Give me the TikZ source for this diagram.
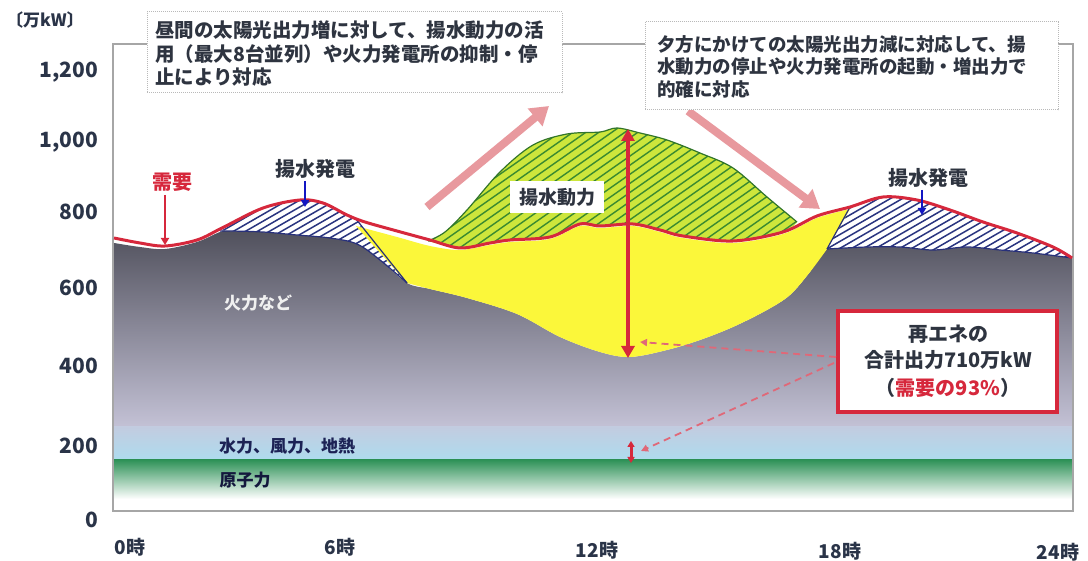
\documentclass[tikz,border=0pt]{standalone}
\usepackage{fontspec}
\usetikzlibrary{arrows.meta}
\newfontfamily\cjk{Noto Sans CJK JP}
\definecolor{demred}{HTML}{D6283C}
\definecolor{navy}{HTML}{28307A}
\definecolor{hatchblue}{HTML}{2A3580}
\definecolor{pumpgreen}{HTML}{CDE63C}
\definecolor{hatchgreen}{HTML}{3A8A30}
\definecolor{solar}{HTML}{FBF73A}
\definecolor{pinkarrow}{HTML}{E8999E}
\definecolor{txt}{HTML}{2E3440}
\definecolor{axtxt}{HTML}{2A3448}
\definecolor{thermtop}{HTML}{50505C}
\definecolor{thermbot}{HTML}{C4C2D6}
\definecolor{hydtop}{HTML}{C2CCE0}
\definecolor{hydbot}{HTML}{ADDCEF}
\definecolor{nuc}{HTML}{2F9258}
\definecolor{dashred}{HTML}{E06878}
\newcommand\fsz[2]{\fontsize{#1}{#2}\selectfont}
\begin{document}
\begin{tikzpicture}[x=1pt,y=-1pt,
  lbl/.style={inner sep=0pt, text=txt, font=\cjk\bfseries},
  boxline/.style={lbl, anchor=west},
  ylab/.style={inner sep=0pt, anchor=east, text=axtxt, font=\cjk\bfseries\fsz{21}{24}},
  xlab/.style={inner sep=0pt, text=axtxt, font=\cjk\bfseries\fsz{19}{22}},
  callout/.style={draw=gray!55, densely dotted, line width=1, fill=white},
  bluehatch/.style={hatchblue, line width=1.5},
  greenhatch/.style={hatchgreen, line width=1.4},
  pinkarr/.style={pinkarrow, line width=8, -{Triangle[length=18pt,width=22pt]}},
  bigarr/.style={demred, line width=4, {Triangle[length=12pt,width=13pt]}-{Triangle[length=12pt,width=13pt]}},
  dasharr/.style={dashred, line width=1.8, dash pattern=on 7pt off 5pt, -{Triangle[length=7pt,width=7pt]}},
  pointer/.style={line width=1.8, -{Triangle[length=7pt,width=8pt]}},
]
\useasboundingbox (0,0) rectangle (1088,561);
\fill[white] (0,0) rectangle (1088,561);

% thermal (gray) region
\shade[top color=thermtop, bottom color=thermbot]
  plot[smooth, tension=0.55] coordinates {(114,243) (140,247) (165,249) (197,242) (220,232) (230,231) (263,232) (297,235) (330,238) (357,244) (380,260) (407,283) (430,289) (467,298) (517,314) (560,337) (600,352) (630,357) (667,350) (700,340) (733,327) (767,310) (790,295) (810,272) (827,249) (867,247) (900,247) (933,250) (967,247) (1000,250) (1033,253) (1072,258)}
  -- (1072,428) -- (114,428) -- cycle;
% hydro / wind / geothermal band
\shade[top color=hydtop, bottom color=hydbot] (114,427) rectangle (1072,461);
% nuclear band
\shade[top color=nuc, middle color=nuc!72!white, bottom color=white] (114,460) rectangle (1072,499);

% left pumped-storage generation (blue hatch)
\begin{scope}
\clip plot[smooth, tension=0.55] coordinates {(220,230) (230,224) (263,208) (300,200) (323,203) (347,215) (356,219)} -- (407,283)
  -- plot[smooth, tension=0.55] coordinates {(407,283) (380,260) (357,244) (330,238) (297,235) (263,232) (230,231) (220,230)} -- cycle;
\fill[white] (200,180) rectangle (420,300);
\foreach \i in {0,...,32} \draw[bluehatch] (30+\i*12,300) -- ++(200,-115);
\end{scope}
% right pumped-storage generation (blue hatch)
\begin{scope}
\clip plot[smooth, tension=0.55] coordinates {(850,207) (883,197) (917,200) (950,210) (983,222) (1017,233) (1053,247) (1072,258)}
  -- plot[smooth, tension=0.55] coordinates {(1072,258) (1033,253) (1000,250) (967,247) (933,250) (900,247) (867,247) (827,249)} -- cycle;
\fill[white] (800,180) rectangle (1080,270);
\foreach \i in {0,...,36} \draw[bluehatch] (630+\i*12,300) -- ++(200,-115);
\end{scope}

% solar (yellow)
\fill[solar] plot[smooth, tension=0.55] coordinates {(356,226) (397,237) (430,246) (460,250) (490,245) (510,242) (550,239) (580,226) (600,228) (633,226) (660,232) (683,238) (733,243) (783,234) (817,218) (850,209)}
  -- (827,249)
  -- plot[smooth, tension=0.55] coordinates {(827,249) (810,272) (790,295) (767,310) (733,327) (700,340) (667,350) (630,357) (600,352) (560,337) (517,314) (467,298) (430,289) (407,283)} -- cycle;

% pumping power (green hatch)
\begin{scope}
\clip plot[smooth, tension=0.55] coordinates {(428,241) (445,232) (467,210) (500,172) (533,145) (567,134) (600,132) (617,128) (640,133) (667,140) (700,153) (733,168) (767,197) (797,222)}
  -- plot[smooth, tension=0.55] coordinates {(797,222) (783,232) (733,241) (683,236) (660,230) (633,224) (600,226) (580,224) (550,237) (510,240) (490,243) (460,248) (428,241)} -- cycle;
\fill[pumpgreen] (420,120) rectangle (810,260);
\foreach \i in {0,...,48} \draw[greenhatch] (150+\i*13,310) -- ++(320,-224);
\end{scope}
\draw[hatchgreen!85!black, line width=1.2] plot[smooth, tension=0.55] coordinates {(428,241) (445,232) (467,210) (500,172) (533,145) (567,134) (600,132) (617,128) (640,133) (667,140) (700,153) (733,168) (767,197) (797,222)};

% navy outlines of the pumped-storage generation areas
\draw[navy, line width=1.2] plot[smooth, tension=0.55] coordinates {(220,231) (230,231) (263,232) (297,235) (330,238) (357,244) (380,260) (407,283)};
\draw[navy, line width=1.2] (356,219) -- (407,283);
\draw[navy, line width=1.2] plot[smooth, tension=0.55] coordinates {(827,249) (867,247) (900,247) (933,250) (967,247) (1000,250) (1033,253) (1072,258)};
\draw[navy, line width=1.2] (850,207) -- (827,249);

% frame
\draw[gray!70, line width=1.2] (113,44) rectangle (1073,511);

% demand curve
\draw[demred, line width=3, line join=round] plot[smooth, tension=0.55] coordinates {(114,238) (140,243) (165,246) (197,240) (222,228) (263,208) (300,200) (323,203) (347,215) (365,222) (397,231) (430,240) (460,248) (490,243) (510,240) (550,237) (580,224) (600,226) (633,224) (660,230) (683,236) (733,241) (783,232) (817,216) (850,207) (883,197) (917,200) (950,210) (983,222) (1017,233) (1053,247) (1072,258)};

% pink trend arrows
\coordinate (pa1) at (427,207); \coordinate (pa2) at (549,106);
\coordinate (pb1) at (688,111); \coordinate (pb2) at (820,209);
\draw[pinkarr] (pa1) -- (pa2);
\draw[pinkarr] (pb1) -- (pb2);

% callout boxes
\node[callout, minimum width=415, minimum height=81, inner sep=0] (boxL) at (354.5,52.5) {};
\node[boxline, font=\cjk\bfseries\fsz{19.5}{24}] (l1) at (155,30) {昼間の太陽光出力増に対して、揚水動力の活};
\node[boxline, font=\cjk\bfseries\fsz{19.5}{24}] (l2) at (155,54) {用（最大8台並列）や火力発電所の抑制・停};
\node[boxline, font=\cjk\bfseries\fsz{19.5}{24}] (l3) at (155,77) {止により対応};
\node[callout, minimum width=413, minimum height=88, inner sep=0] (boxR) at (851.5,66) {};
\node[boxline, font=\cjk\bfseries\fsz{18.5}{22}] (r1) at (657,45) {夕方にかけての太陽光出力減に対応して、揚};
\node[boxline, font=\cjk\bfseries\fsz{18.5}{22}] (r2) at (657,67) {水動力の停止や火力発電所の起動・増出力で};
\node[boxline, font=\cjk\bfseries\fsz{18.5}{22}] (r3) at (657,89) {的確に対応};

% big double arrow (renewables total)
\coordinate (ba1) at (628,129); \coordinate (ba2) at (628,358);
\draw[bigarr] (ba1) -- (ba2);
\coordinate (sa1) at (631,441); \coordinate (sa2) at (631,463);
\draw[demred, line width=3, {Triangle[length=6pt,width=7pt]}-{Triangle[length=6pt,width=7pt]}] (sa1) -- (sa2);

% legend box
\node[draw=demred, line width=3.5, fill=white, minimum width=219, minimum height=101, inner sep=0] (leg) at (947.5,361.5) {};
\node[lbl, font=\cjk\bfseries\fsz{20}{22}] (lg1) at (948,334) {再エネの};
\node[lbl, font=\cjk\bfseries\fsz{20}{22}] (lg2) at (948,360) {合計出力710万kW};
\node[lbl, font=\cjk\bfseries\fsz{20}{22}] (lg3) at (948,388) {（\textcolor{demred}{需要の93\%}）};
\coordinate (dA) at (836,357); \coordinate (dAe) at (640,342);
\coordinate (dB) at (834,363); \coordinate (dBe) at (641,451);
\draw[dasharr] (dA) -- (dAe);
\draw[dasharr] (dB) -- (dBe);

% labels
\node[lbl, text=demred, font=\cjk\bfseries\fsz{20}{24}] (dem) at (172,182) {需要};
\coordinate (demA) at (165,195); \coordinate (demB) at (165,245);
\draw[pointer, demred] (demA) -- (demB);
\node[lbl, font=\cjk\bfseries\fsz{20}{24}] (ysL) at (315,169) {揚水発電};
\coordinate (ysLa) at (305,181); \coordinate (ysLb) at (305,207);
\draw[pointer, blue!55!navy] (ysLa) -- (ysLb);
\node[lbl, font=\cjk\bfseries\fsz{20}{24}] (ysR) at (928,178) {揚水発電};
\coordinate (ysRa) at (922,190); \coordinate (ysRb) at (922,215);
\draw[pointer, blue!55!navy] (ysRa) -- (ysRb);
\node[lbl, fill=white, inner xsep=9, inner ysep=7, font=\cjk\bfseries\fsz{19}{24}] (ysd) at (557,197) {揚水動力};
\node[lbl, text=white!88!gray, font=\cjk\bfseries\fsz{17}{20}] (thermal) at (258,303) {火力など};
\node[lbl, text=navy!70!black, font=\cjk\bfseries\fsz{17}{20}] (hydro) at (287,446) {水力、風力、地熱};
\node[lbl, text=navy!50!black, font=\cjk\bfseries\fsz{17}{20}] (nucl) at (245,480) {原子力};

% axes labels
\node[lbl, text=axtxt, font=\cjk\bfseries\fsz{17}{20}] (unit) at (45,20) {〔万kW〕};
\node[ylab] (y1200) at (98,72) {1,200};
\node[ylab] (y1000) at (98,142) {1,000};
\node[ylab] (y800) at (98,212) {800};
\node[ylab] (y600) at (98,288) {600};
\node[ylab] (y400) at (98,366) {400};
\node[ylab] (y200) at (98,446) {200};
\node[ylab] (y0) at (98,520) {0};
\node[xlab] (x0) at (130,547) {0時};
\node[xlab] (x6) at (340,547) {6時};
\node[xlab] (x12) at (597,550) {12時};
\node[xlab] (x18) at (840,551) {18時};
\node[xlab] (x24) at (1058,552) {24時};
\end{tikzpicture}
\end{document}
